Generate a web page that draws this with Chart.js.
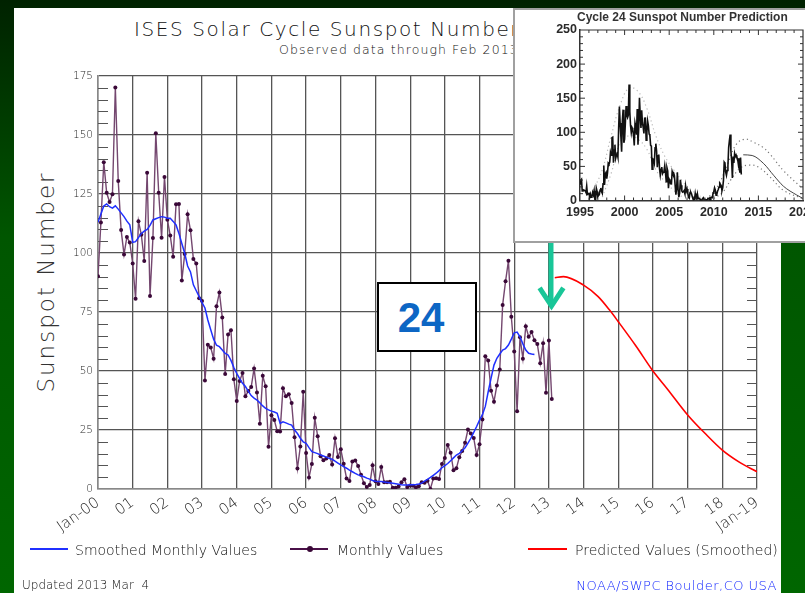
<!DOCTYPE html>
<html><head><meta charset="utf-8">
<script src="https://cdn.jsdelivr.net/npm/chart.js@4.4.1/dist/chart.umd.min.js"></script>
<style>
html,body{margin:0;padding:0;width:805px;height:593px;overflow:hidden;}
body{position:relative;background:linear-gradient(180deg,#002200 0%,#005600 40%,#006600 100%);font-family:"DejaVu Sans",sans-serif;}
.abs{position:absolute;white-space:nowrap;}
#panel{left:14px;top:8px;width:767px;height:585px;background:#fff;}
#title{left:134px;top:19px;font-size:20px;line-height:20px;letter-spacing:1.6px;color:#111;font-weight:200;}
#subtitle{left:279px;top:44px;font-size:12.5px;line-height:12.5px;letter-spacing:1.1px;color:#111;font-weight:200;}
#ylab{left:46px;top:282px;font-size:23px;line-height:23px;letter-spacing:2px;color:#333;font-weight:200;transform:translate(-50%,-50%) rotate(-90deg);}
#main{left:0;top:0;}
#box24{left:377px;top:282px;width:100px;height:70px;box-sizing:border-box;border:2px solid #000;background:#fff;}
#box24 span{position:absolute;left:0;width:84px;top:13px;text-align:center;font-family:"Liberation Sans",Arial,sans-serif;font-weight:bold;font-size:42px;line-height:42px;color:#0d66c4;}
#arrow{left:0;top:0;}
#inset{left:513px;top:8px;width:300px;height:235px;box-sizing:border-box;border:2px solid #a0a0a0;background:#fff;overflow:hidden;}
#insetCanvas{position:absolute;left:-2px;top:-2px;filter:blur(0.35px);}
#insetTitle{left:62px;top:1px;font-family:"Liberation Sans",Arial,sans-serif;font-weight:bold;font-size:12px;line-height:12px;color:#333;filter:blur(0.3px);}
.leg{font-size:14px;line-height:14px;top:543px;color:#111;font-weight:200;}
.legline{height:2px;top:548px;}
#upd{left:22px;top:579px;font-size:12px;line-height:12px;color:#111;font-weight:200;}
#noaa{right:28px;top:579px;font-size:13px;line-height:13px;letter-spacing:0.5px;color:#1024ff;font-weight:200;}
</style></head>
<body>
<div id="panel" class="abs"></div>
<div id="title" class="abs">ISES Solar Cycle Sunspot Number</div>
<div id="subtitle" class="abs">Observed data through Feb 2013</div>
<div id="ylab" class="abs">Sunspot Number</div>
<canvas id="main" class="abs" width="805" height="593"></canvas>
<div id="box24" class="abs"><span>24</span></div>
<svg id="arrow" class="abs" width="805" height="593">
  <line x1="551" y1="243" x2="551" y2="306" stroke="#19c698" stroke-width="5"/>
  <polyline points="541,290 551.5,306 562,290" fill="none" stroke="#19c698" stroke-width="5" stroke-linecap="square" stroke-linejoin="miter"/>
</svg>
<div id="inset" class="abs">
  <canvas id="insetCanvas" width="330" height="235"></canvas>
  <div id="insetTitle" class="abs">Cycle 24 Sunspot Number Prediction</div>
</div>
<div class="abs legline" style="left:30px;width:38px;background:#2030ff;"></div>
<div class="abs leg" style="left:75px;">Smoothed Monthly Values</div>
<div class="abs legline" style="left:290px;width:38px;background:#4a1048;"></div>
<div class="abs" style="left:307px;top:546px;width:6px;height:6px;border-radius:50%;background:#3a0838;"></div>
<div class="abs leg" style="left:337px;">Monthly Values</div>
<div class="abs legline" style="left:528px;width:39px;background:#ff0000;"></div>
<div class="abs leg" style="left:575px;">Predicted Values (Smoothed)</div>
<div id="upd" class="abs">Updated 2013 Mar&nbsp; 4</div>
<div id="noaa" class="abs">NOAA/SWPC Boulder,CO USA</div>
<script>
// ---------- main chart data ----------
const startYear = 2000; // first month: Jan 2000
const monthlyValues = [
  90.1,112.9,138.5,125.5,121.6,124.9,170.1,130.5,109.7,99.4,106.8,104.4,
  95.6,80.6,113.5,107.7,96.6,134.0,81.8,106.4,150.7,125.5,106.5,132.2,
  114.1,107.4,98.4,120.7,120.8,88.3,99.6,116.4,109.6,97.5,95.5,80.8,
  79.7,46.0,61.1,60.0,55.2,77.4,83.3,72.7,48.7,65.5,67.3,46.5,
  37.3,45.8,49.1,39.3,41.5,43.2,51.1,40.9,27.7,48.0,43.5,17.9,
  31.3,29.2,24.5,24.4,42.7,39.3,40.1,36.4,21.9,8.7,18.0,41.2,
  15.3,4.9,10.6,30.2,22.3,13.9,12.2,12.9,14.4,10.4,21.5,13.6,
  16.8,10.7,4.5,3.4,11.7,12.1,9.7,6.0,2.4,0.9,1.7,10.1,
  3.3,2.1,9.3,2.9,2.9,3.1,0.5,0.5,1.1,2.9,4.1,0.8,
  1.5,1.4,0.7,1.2,2.9,2.6,3.5,0.0,4.4,4.6,4.2,10.6,
  13.1,18.6,15.4,7.9,8.8,13.5,16.1,19.6,25.2,23.5,21.6,14.4,
  19.0,29.4,56.2,54.4,41.6,37.0,43.9,50.6,78.0,88.0,96.7,73.0,
  58.3,32.9,64.3,55.2,69.0,64.5,66.5,63.0,61.4,53.3,61.8,40.8,
  62.9,38.1
];
const smoothedValues = [
  113.0,116.5,119.9,120.8,119.6,119.0,120.0,118.6,117.0,115.4,113.5,111.9,
  104.5,104.8,106.5,108.3,109.3,110.0,111.7,114.0,114.5,115.0,115.4,115.2,
  114.7,114.7,113.4,111.9,108.3,104.0,99.9,94.5,92.0,86.5,84.0,81.5,
  79.0,76.7,71.6,67.5,63.5,60.9,60.3,58.9,57.5,56.8,54.5,51.5,
  49.0,46.8,44.8,43.4,41.5,39.6,38.5,37.7,36.5,35.2,34.2,33.5,
  33.0,32.6,32.1,27.8,28.5,28.0,27.5,27.1,25.0,23.5,21.5,20.0,
  19.4,17.5,15.8,15.4,15.0,14.4,14.0,13.5,13.0,12.6,11.8,11.0,
  10.2,9.5,8.8,8.0,7.3,6.6,6.0,5.6,5.2,4.6,4.2,3.6,
  3.3,3.2,3.2,3.0,2.8,2.6,2.4,2.2,2.0,1.8,1.7,1.7,
  1.8,1.8,1.9,2.1,2.5,3.3,4.1,4.9,5.8,6.7,7.8,9.0,
  9.9,10.8,12.0,13.2,14.4,15.1,16.2,17.5,19.4,21.5,24.0,26.5,
  29.2,31.5,35.0,41.2,47.0,52.5,55.4,57.2,58.9,59.5,61.0,63.5,
  66.2,66.5,64.5,61.5,58.9,57.5,57.2,57.0
];
const predictedYears  = [2013.17,2013.42,2014.0,2014.42,2014.75,2015.0,2015.5,2016.0,2016.42,2017.0,2017.5,2018.0,2018.5,2019.0];
const predictedValues = [89.5,90.0,86.4,81.5,75.8,70.9,60.8,50.0,42.3,31.4,23.6,16.5,11.3,7.3];
const xTickLabels = ['Jan-00','01','02','03','04','05','06','07','08','09','10','11','12','13','14','15','16','17','18','Jan-19'];
const yTickStep = 25;

// ---------- inset chart data ----------
const insetStartYear = 1995;
const insetEarlyMonthly = [ // Jan 1995 - Dec 1999
  24.2,29.9,31.1,14.0,14.5,15.6,14.5,14.3,11.8,21.1,9.0,10.0,
  11.5,4.4,9.2,4.8,5.5,11.8,8.2,14.4,1.6,0.9,17.9,13.3,
  5.7,7.6,8.7,15.5,18.5,12.7,10.4,24.4,51.3,22.8,39.0,41.2,
  31.9,40.3,54.8,53.4,56.3,70.7,66.6,92.2,92.9,55.5,74.0,81.9,
  62.0,66.3,68.8,63.7,106.4,137.7,113.5,93.7,71.5,116.7,133.2,84.6
];
const insetPredYears   = [2013.3,2014.3,2015.6,2016.7,2017.8,2019.3,2020.0];
const insetPredValues  = [67,66,54,37,21,8,3];
const insetUpperYears  = [2009.5,2010.5,2011.5,2012.5,2013.5,2014.5,2015.5,2016.3,2017.8,2019.9];
const insetUpperValues = [6,22,52,82,90,85,78,68,44,18];
const insetLowerYears  = [2010.0,2011.0,2012.0,2013.0,2014.0,2015.0,2016.3,2017.8,2019.9];
const insetLowerValues = [3,12,32,48,52,49,34.5,15,3];
const inset23UpperYears  = [1996.5,1997.5,1998.5,1999.5,2000.5,2001.5,2002.5,2003.5,2004.5,2005.5,2006.5,2007.5,2008.5];
const inset23UpperValues = [15,45,95,140,165,160,135,95,65,45,28,15,6];
const inset23LowerYears  = [1997.5,1998.5,1999.5,2000.5,2001.5,2002.5,2003.5,2004.5,2005.5,2006.5];
const inset23LowerValues = [5,40,85,95,90,75,45,28,15,5];

const pts = (xs, ys) => xs.map((x, i) => ({x, y: ys[i]}));
const monthly = (start, vals) => vals.map((v, i) => ({x: start + i / 12, y: v}));

const mainDecor = {
  id: 'mainDecor',
  beforeDatasetsDraw(chart) {
    const {ctx, chartArea: a, scales: {y}} = chart;
    ctx.save();
    ctx.strokeStyle = '#555';
    ctx.lineWidth = 1;
    for (let v = 5; v < 175; v += 5) {
      if (v % yTickStep === 0) continue;
      const py = Math.round(y.getPixelForValue(v)) + 0.5;
      ctx.beginPath();
      ctx.moveTo(a.left, py); ctx.lineTo(a.left + 10, py);
      ctx.moveTo(a.right - 10, py); ctx.lineTo(a.right, py);
      ctx.stroke();
    }
    ctx.restore();
  }
};

new Chart(document.getElementById('main'), {
  type: 'line',
  data: {
    datasets: [
      {label: 'Smoothed Monthly Values', data: monthly(startYear, smoothedValues), borderColor: '#1f2fff', borderWidth: 1.5, pointRadius: 0, order: 0},
      {label: 'Monthly Values', data: monthly(startYear, monthlyValues), borderColor: '#74476f', borderWidth: 1.4, pointRadius: 2, pointBackgroundColor: '#3a0838', pointBorderWidth: 0, order: 1},
      {label: 'Predicted Values (Smoothed)', data: pts(predictedYears, predictedValues), borderColor: '#ff0000', borderWidth: 1.6, pointRadius: 0, cubicInterpolationMode: 'monotone', order: 2}
    ]
  },
  options: {
    responsive: false, animation: false, devicePixelRatio: 1,
    layout: {padding: {left: 14, top: 76, right: 48, bottom: 0}},
    plugins: {legend: {display: false}, tooltip: {enabled: false}},
    scales: {
      x: {
        type: 'linear', min: 2000, max: 2019,
        afterFit(s) { s.height = 104; },
        ticks: {stepSize: 1, autoSkip: false, minRotation: 35, maxRotation: 35, padding: 5, color: '#222',
          font: {family: 'DejaVu Sans', size: 15, weight: '200'},
          callback: (v) => xTickLabels[Math.round(v - 2000)]},
        grid: {color: '#555', lineWidth: 1.3, drawTicks: false},
        border: {color: '#888', width: 1.5}
      },
      y: {
        min: 0, max: 175,
        afterFit(s) { s.width = 84; },
        ticks: {stepSize: yTickStep, padding: 5, color: '#222',
          font: {family: 'DejaVu Sans', size: 10.5, weight: '200'}},
        grid: {color: '#555', lineWidth: 1.3, drawTicks: false},
        border: {color: '#888', width: 1.5}
      }
    }
  },
  plugins: [mainDecor]
});

const insetDecor = {
  id: 'insetDecor',
  afterDatasetsDraw(chart) {
    const {ctx, chartArea: a, scales: {x, y}} = chart;
    ctx.save();
    ctx.strokeStyle = '#333';
    ctx.lineWidth = 1.2;
    ctx.beginPath();
    ctx.moveTo(a.left, a.top); ctx.lineTo(a.right, a.top); ctx.lineTo(a.right, a.bottom);
    ctx.stroke();
    ctx.lineWidth = 1;
    for (let v = 10; v < 250; v += 10) {
      const py = y.getPixelForValue(v);
      const len = v % 50 === 0 ? 5 : 3;
      ctx.beginPath();
      ctx.moveTo(a.left, py); ctx.lineTo(a.left + len, py);
      ctx.moveTo(a.right, py); ctx.lineTo(a.right - len, py);
      ctx.stroke();
    }
    for (let yr = 1996; yr < 2020; yr++) {
      const px = x.getPixelForValue(yr);
      const len = yr % 5 === 0 ? 5 : 3;
      ctx.beginPath();
      ctx.moveTo(px, a.top); ctx.lineTo(px, a.top + len);
      ctx.moveTo(px, a.bottom); ctx.lineTo(px, a.bottom - len);
      ctx.stroke();
    }
    ctx.restore();
  }
};

const insetFont = {family: 'Liberation Sans', size: 12.5, weight: 'bold'};
new Chart(document.getElementById('insetCanvas'), {
  type: 'line',
  data: {
    datasets: [
      {data: monthly(insetStartYear, insetEarlyMonthly).concat(monthly(startYear, monthlyValues)), borderColor: '#111', borderWidth: 1.6, pointRadius: 0},
      {data: pts(insetPredYears, insetPredValues), borderColor: '#444', borderWidth: 1, pointRadius: 0, cubicInterpolationMode: 'monotone'},
      {data: pts(insetUpperYears, insetUpperValues), borderColor: '#777', borderWidth: 1.2, borderDash: [1.2, 3], pointRadius: 0, tension: 0.4},
      {data: pts(insetLowerYears, insetLowerValues), borderColor: '#777', borderWidth: 1.2, borderDash: [1.2, 3], pointRadius: 0, tension: 0.4},
      {data: pts(inset23UpperYears, inset23UpperValues), borderColor: '#bbb', borderWidth: 1.2, borderDash: [1.2, 3], pointRadius: 0, tension: 0.4},
      {data: pts(inset23LowerYears, inset23LowerValues), borderColor: '#bbb', borderWidth: 1.2, borderDash: [1.2, 3], pointRadius: 0, tension: 0.4}
    ]
  },
  options: {
    responsive: false, animation: false, devicePixelRatio: 1,
    layout: {padding: {left: 0, top: 22, right: 40, bottom: 0}},
    plugins: {legend: {display: false}, tooltip: {enabled: false}},
    scales: {
      x: {type: 'linear', min: 1995, max: 2020, afterFit(s) { s.height = 42.5; },
        ticks: {stepSize: 5, maxRotation: 0, minRotation: 0, padding: 5, color: '#2a2a2a', font: insetFont, callback: (v) => String(v)},
        grid: {display: false, drawTicks: false}, border: {color: '#333', width: 1.5}},
      y: {min: 0, max: 250, afterFit(s) { s.width = 67; },
        ticks: {stepSize: 50, padding: 3, color: '#2a2a2a', font: insetFont, callback: (v) => String(v)},
        grid: {display: false, drawTicks: false}, border: {color: '#333', width: 1.5}}
    }
  },
  plugins: [insetDecor]
});
</script>
</body></html>
